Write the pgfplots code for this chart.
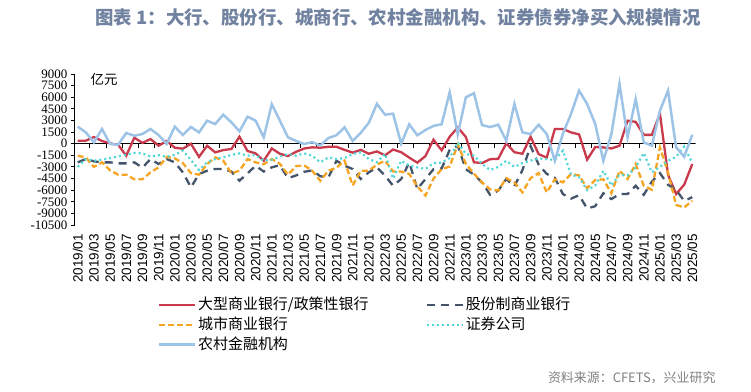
\documentclass[border=0pt]{standalone}
\usepackage{pgfplots}
\pgfplotsset{compat=1.18}
\usepackage{pgfplotstable}
\usepackage{fontspec}
\setmainfont{Liberation Serif}
\newfontfamily\cjk{Noto Sans CJK SC}
\newfontfamily\arial{Liberation Sans}

\definecolor{cred}{RGB}{200,58,76}
\definecolor{cnavy}{RGB}{68,84,106}
\definecolor{corange}{RGB}{245,165,35}
\definecolor{cteal}{RGB}{80,215,215}
\definecolor{cblue}{RGB}{157,195,230}
\definecolor{ctitle}{RGB}{112,130,160}
\definecolor{csrc}{RGB}{128,128,128}

\pgfplotstableread{
m red navy orange teal blue
0 390 -2410 -1550 -3000 2200
1 390 -1980 -1770 -1980 1460
2 860 -2280 -3000 -2200 170
3 350 -2410 -2410 -2050 1900
4 43 -2410 -3450 -1870 -40
5 -150 -2540 -4000 -1650 -130
6 -1550 -2540 -4000 -1400 1380
7 780 -2410 -4600 -1200 1030
8 100 -3100 -4600 -1260 1250
9 600 -1980 -3700 -1650 1900
10 -260 -2630 -3060 -1480 1120
11 350 -1980 -1700 -1700 -40
12 -520 -2410 -1900 -1450 2200
13 -650 -3700 -2500 -900 1120
14 0 -5640 -3800 -2100 2150
15 -1700 -3920 -4000 -3400 1460
16 -260 -3490 -2630 -2410 2970
17 -1120 -3270 -1770 -1980 2540
18 -820 -3270 -2200 -1770 3750
19 -690 -3600 -3830 -1460 2760
20 900 -4780 -3490 -1250 1590
21 -950 -3830 -1980 -1550 3490
22 -1250 -2840 -2410 -1460 2970
23 -2200 -3600 -2650 -2200 820
24 -620 -3050 -1980 -2070 5100
25 -1300 -2780 -2600 -1680 2970
26 -1600 -4450 -4000 -1330 820
27 -1050 -4100 -2900 -1550 350
28 -620 -3630 -2800 -1250 -40
29 -470 -3450 -3500 -1550 200
30 -520 -4200 -4800 -2400 -220
31 -400 -4350 -3490 -1770 730
32 -400 -2200 -3100 -1980 1100
33 -800 -2840 -2200 -1850 2110
34 -1150 -3270 -5400 -1330 350
35 -800 -4560 -3490 -1120 1400
36 -1300 -3700 -3490 -1980 2700
37 -1000 -3060 -2700 -2400 5150
38 -1500 -4130 -2200 -1300 3750
39 -750 -5430 -3600 -4500 3870
40 -1100 -4560 -3600 -2200 0
41 -1800 -2410 -3900 -2840 2500
42 -2450 -5860 -5500 -3060 1080
43 -1600 -4560 -6700 -3270 1770
44 520 -3300 -4500 -2500 2300
45 -850 -3200 -3300 -2450 2500
46 900 -800 -2950 -1850 6630
47 2110 -260 -100 170 1200
48 860 -3300 -2600 -1330 5990
49 -2400 -4000 -3870 -1550 6520
50 -2500 -5000 -5000 -2600 2400
51 -2000 -6600 -5900 -3400 2150
52 -1950 -6070 -6050 -3000 2450
53 43 -4560 -4450 -2200 390
54 -1100 -5500 -5000 -3000 5125
55 -1300 -3400 -6290 -2500 1460
56 900 -300 -4450 -2200 1250
57 -1350 -2700 -3800 -1900 2450
58 -1800 -3900 -6290 -2000 1250
59 1900 -4400 -4600 -2100 -2200
60 1900 -6500 -5000 -900 1300
61 1460 -7100 -3920 -4000 3830
62 1200 -6650 -4100 -4300 6850
63 -2050 -8370 -5750 -6000 5125
64 -430 -8070 -4700 -5400 2540
65 -480 -6400 -4600 -3500 -2200
66 -620 -7150 -6400 -5400 1250
67 -260 -6500 -3500 -4000 7710
68 2970 -6500 -4550 -4100 820
69 2820 -5430 -2630 -3060 5770
70 1140 -6600 -5430 -1200 170
71 1140 -4900 -5950 -3700 -260
72 3880 -3800 -500 -3000 4260
73 -4000 -5300 -3700 -2200 6850
74 -6500 -5950 -7900 -1700 -470
75 -5300 -7400 -8230 -370 -1680
76 -2630 -6900 -7360 -2500 1160
}\data

\begin{document}
\begin{tikzpicture}
\path[use as bounding box] (0,0) rectangle (751bp,-392bp);
\node[text=ctitle, font=\cjk\bfseries\fontsize{18.5}{18.5}\selectfont] at (398bp,-17bp) {图表 1：大行、股份行、城商行、农村金融机构、证券债券净买入规模情况};
\node[font=\cjk\fontsize{13.5}{13.5}\selectfont] at (104bp,-79bp) {亿元};
\node[anchor=east, text=csrc, font=\cjk\fontsize{13}{13}\selectfont] at (719bp,-378bp) {资料来源：CFETS，兴业研究};
\begin{axis}[
  at={(74.5bp,-225bp)}, anchor=south west,
  scale only axis, width=621bp, height=151bp,
  xmin=-0.4, xmax=76.4, ymin=-10500, ymax=9000,
  axis y line*=left, axis x line*=bottom,
  x axis line style={draw=none},
  y axis line style={line width=0.9bp},
  tick align=outside, major tick length=4bp,
  scaled y ticks=false,
  xtick={0,2,...,76},
  xticklabels={2019/01,2019/03,2019/05,2019/07,2019/09,2019/11,2020/01,2020/03,2020/05,2020/07,2020/09,2020/11,2021/01,2021/03,2021/05,2021/07,2021/09,2021/11,2022/01,2022/03,2022/05,2022/07,2022/09,2022/11,2023/01,2023/03,2023/05,2023/07,2023/09,2023/11,2024/01,2024/03,2024/05,2024/07,2024/09,2024/11,2025/01,2025/03,2025/05},
  xtick style={draw=none},
  xticklabel style={rotate=90, anchor=east, inner xsep=5bp, font=\arial\fontsize{13.5}{13.5}\selectfont},
  ytick={-10500,-9000,...,9000},
  ytick style={line width=0.9bp, black},
  yticklabel style={font=\fontsize{13}{13}\selectfont, inner xsep=3bp, /pgf/number format/1000 sep={}, /pgf/number format/assume math mode=true},
  legend columns=2,
  legend cell align=left,
  legend style={at={(axis description cs:0.1345,-0.47)}, anchor=north west, draw=none, fill=none,
    font=\cjk\fontsize{15}{15}\selectfont, inner sep=0pt, row sep=3bp,
    /tikz/every even column/.append style={column sep=56bp},
    nodes={inner sep=1.5bp, text height=11.5bp, text depth=2.5bp}},
  legend image code/.code={\draw[#1] (0bp,0bp) -- (36bp,0bp);},
]
\draw[line width=1.1bp] (axis cs:-0.4,0) -- (axis cs:76.4,0);
\pgfplotsinvokeforeach{1.5,3.5,...,75.5}{\draw[line width=0.9bp] (axis cs:#1,0) -- ([yshift=-4.5bp]axis cs:#1,0);}
\addplot[cred, line width=2.3bp] table[x=m,y=red]{\data};
\addlegendentry{大型商业银行/政策性银行}
\addplot[cnavy, line width=2.3bp, dash pattern=on 8bp off 6bp] table[x=m,y=navy]{\data};
\addlegendentry{股份制商业银行}
\addplot[corange, line width=2.3bp, dash pattern=on 6bp off 3bp] table[x=m,y=orange]{\data};
\addlegendentry{城市商业银行}
\addplot[cteal, line width=2.2bp, dash pattern=on 2bp off 3bp] table[x=m,y=teal]{\data};
\addlegendentry{证券公司}
\addplot[cblue, line width=2.5bp] table[x=m,y=blue]{\data};
\addlegendentry{农村金融机构}
\end{axis}
\end{tikzpicture}
\end{document}
